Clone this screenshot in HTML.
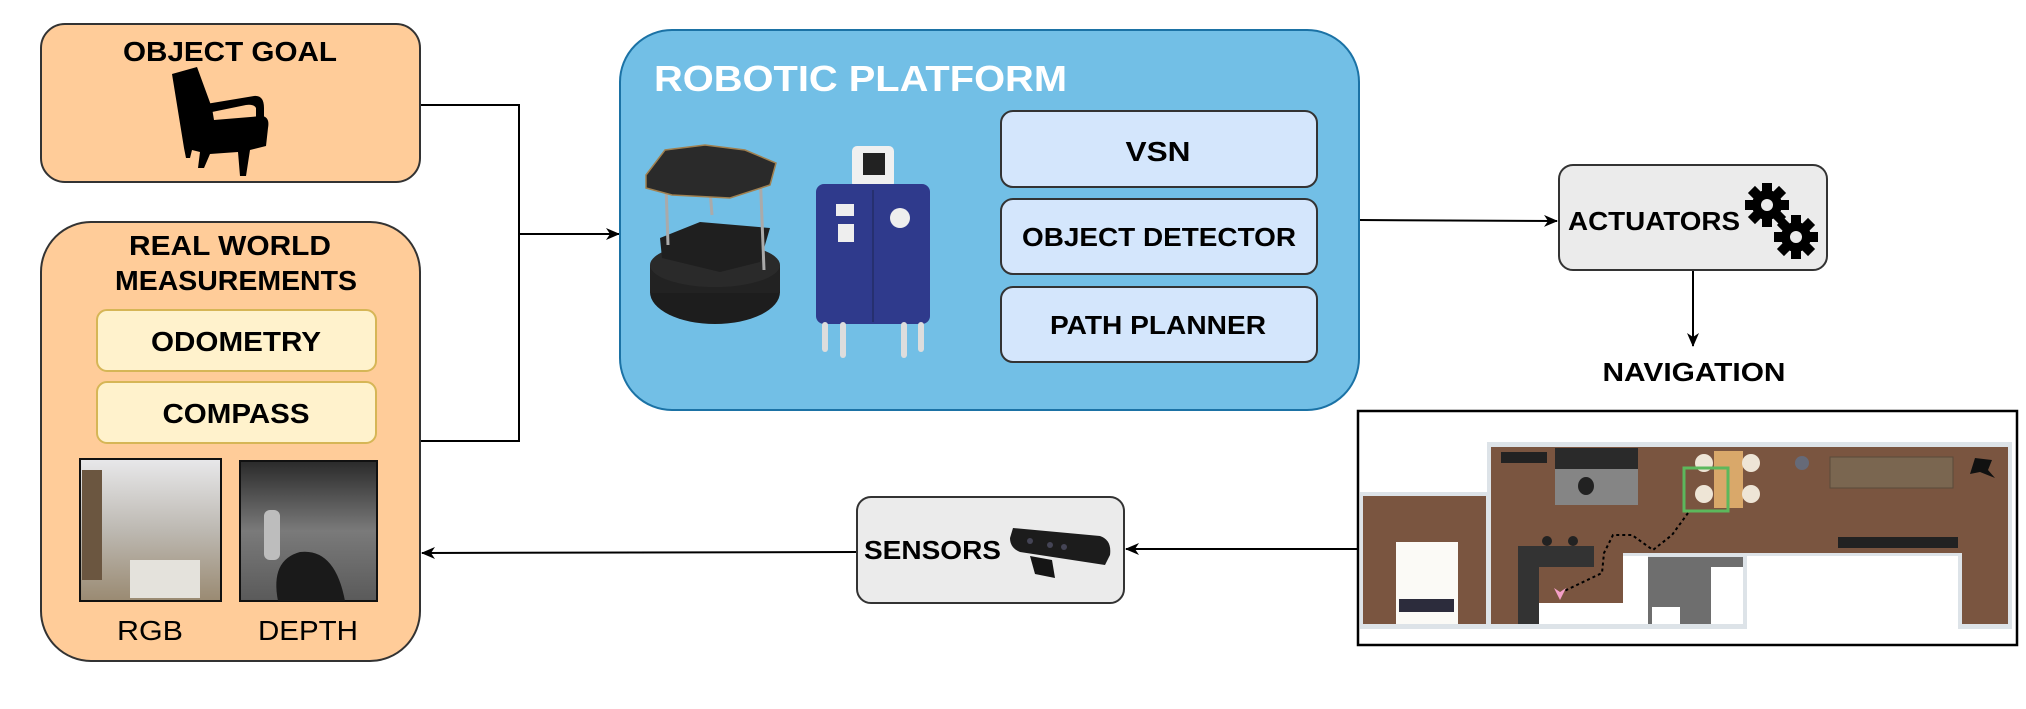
<!DOCTYPE html>
<html><head><meta charset="utf-8"><style>
html,body{margin:0;padding:0;background:#fff;}
svg{display:block;font-family:"Liberation Sans",sans-serif;}
</style></head><body>
<svg width="2026" height="709" viewBox="0 0 2026 709" xmlns="http://www.w3.org/2000/svg">
<defs>
<marker id="ah" markerWidth="14" markerHeight="12" refX="13" refY="6" orient="auto" markerUnits="userSpaceOnUse">
<path d="M0,0 L14,6 L0,12 L4,6 Z" fill="#000"/></marker>
<linearGradient id="rgbg" x1="0" y1="0" x2="0" y2="1"><stop offset="0" stop-color="#e8e8ea"/><stop offset="0.5" stop-color="#bdb9b2"/><stop offset="1" stop-color="#9a8a72"/></linearGradient>
<linearGradient id="depg" x1="0" y1="0" x2="0" y2="1"><stop offset="0" stop-color="#2a2a2a"/><stop offset="0.5" stop-color="#7a7a7a"/><stop offset="1" stop-color="#5a5a5a"/></linearGradient>
<g id="gear"><circle r="15" fill="#000"/>
<g fill="#000"><rect x="-5" y="-22" width="10" height="44"/><rect x="-5" y="-22" width="10" height="44" transform="rotate(45)"/><rect x="-5" y="-22" width="10" height="44" transform="rotate(90)"/><rect x="-5" y="-22" width="10" height="44" transform="rotate(135)"/></g>
<circle r="6" fill="#ebebeb"/></g>
</defs>

<!-- connectors -->
<polyline points="420,105 519,105 519,441 420,441" fill="none" stroke="#000" stroke-width="2"/>
<line x1="519" y1="234" x2="619" y2="234" stroke="#000" stroke-width="2" marker-end="url(#ah)"/>
<line x1="1359" y1="220" x2="1557" y2="221" stroke="#000" stroke-width="2" marker-end="url(#ah)"/>
<line x1="1693" y1="270" x2="1693" y2="346" stroke="#000" stroke-width="2" marker-end="url(#ah)"/>
<line x1="1358" y1="549" x2="1126" y2="549" stroke="#000" stroke-width="2" marker-end="url(#ah)"/>
<line x1="857" y1="552" x2="422" y2="553" stroke="#000" stroke-width="2" marker-end="url(#ah)"/>

<!-- Object goal -->
<rect x="41" y="24" width="379" height="158" rx="24" fill="#ffcc99" stroke="#333" stroke-width="2"/>
<text x="230" y="61" text-anchor="middle" font-weight="bold" font-size="28" textLength="214" lengthAdjust="spacingAndGlyphs">OBJECT GOAL</text>
<g fill="#000">
<path d="M172,74 L197,67 L212,108 L214,120 L262,116 Q270,117 268,128 L266,146 L250,150 L246,176 L240,176 L238,152 L210,154 L204,168 L198,168 L200,152 L192,150 L190,158 L186,158 L184,148 Z"/>
<path d="M206,104 L254,96 Q264,95 264,108 L264,118 L256,118 L256,108 Q254,104 246,105 L212,112 Z"/>
</g>

<!-- Real world -->
<rect x="41" y="222" width="379" height="439" rx="50" fill="#ffcc99" stroke="#333" stroke-width="2"/>
<text x="230" y="255" text-anchor="middle" font-weight="bold" font-size="28" textLength="202" lengthAdjust="spacingAndGlyphs">REAL WORLD</text>
<text x="236" y="290" text-anchor="middle" font-weight="bold" font-size="28" textLength="242" lengthAdjust="spacingAndGlyphs">MEASUREMENTS</text>
<rect x="97" y="310" width="279" height="61" rx="10" fill="#fff2cc" stroke="#d6b656" stroke-width="2"/>
<text x="236" y="351" text-anchor="middle" font-weight="bold" font-size="28" textLength="170" lengthAdjust="spacingAndGlyphs">ODOMETRY</text>
<rect x="97" y="382" width="279" height="61" rx="10" fill="#fff2cc" stroke="#d6b656" stroke-width="2"/>
<text x="236" y="423" text-anchor="middle" font-weight="bold" font-size="28" textLength="147" lengthAdjust="spacingAndGlyphs">COMPASS</text>
<rect x="80" y="459" width="141" height="142" fill="url(#rgbg)" stroke="#111" stroke-width="2"/>
<rect x="82" y="470" width="20" height="110" fill="#6b5640"/>
<rect x="130" y="560" width="70" height="38" fill="#e4e2dc"/>
<rect x="240" y="461" width="137" height="140" fill="url(#depg)" stroke="#111" stroke-width="2"/>
<rect x="264" y="510" width="16" height="50" rx="6" fill="#bdbdbd"/>
<path d="M278,601 Q270,560 300,552 Q335,548 345,601 Z" fill="#1a1a1a"/>
<text x="150" y="640" text-anchor="middle" font-size="28" textLength="66" lengthAdjust="spacingAndGlyphs">RGB</text>
<text x="308" y="640" text-anchor="middle" font-size="28" textLength="100" lengthAdjust="spacingAndGlyphs">DEPTH</text>

<!-- Robotic platform -->
<rect x="620" y="30" width="739" height="380" rx="52" fill="#72bfe6" stroke="#1b72a5" stroke-width="2"/>
<text x="654" y="91" font-weight="bold" font-size="36" fill="#fff" textLength="413" lengthAdjust="spacingAndGlyphs">ROBOTIC PLATFORM</text>
<!-- turtlebot -->
<ellipse cx="715" cy="292" rx="65" ry="32" fill="#1d1d1d"/>
<rect x="650" y="265" width="130" height="28" fill="#222"/>
<ellipse cx="715" cy="265" rx="65" ry="22" fill="#2a2a2a"/>
<path d="M660,238 L700,222 L770,228 L760,262 L720,272 L662,258 Z" fill="#1f1f1f"/>
<line x1="666" y1="185" x2="668" y2="245" stroke="#aaa" stroke-width="3"/>
<line x1="760" y1="170" x2="764" y2="270" stroke="#aaa" stroke-width="3"/>
<line x1="710" y1="190" x2="712" y2="215" stroke="#aaa" stroke-width="3"/>
<path d="M646,175 L665,150 L705,145 L745,150 L776,163 L770,185 L730,198 L672,195 L646,188 Z" fill="#2a2a2a" stroke="#a08050" stroke-width="1.5"/>
<!-- blue robot -->
<rect x="852" y="146" width="42" height="42" rx="5" fill="#f0f0f0"/>
<rect x="863" y="153" width="22" height="22" fill="#222"/>
<rect x="816" y="184" width="114" height="140" rx="8" fill="#2f3a8c"/>
<line x1="873" y1="190" x2="873" y2="322" stroke="#26306f" stroke-width="2"/>
<circle cx="900" cy="218" r="10" fill="#eee"/>
<rect x="836" y="204" width="18" height="12" fill="#eee"/>
<rect x="838" y="224" width="16" height="18" fill="#eee"/>
<rect x="822" y="322" width="6" height="30" rx="3" fill="#ddd"/>
<rect x="840" y="322" width="6" height="36" rx="3" fill="#ddd"/>
<rect x="901" y="322" width="6" height="36" rx="3" fill="#ddd"/>
<rect x="918" y="322" width="6" height="30" rx="3" fill="#ddd"/>
<!-- modules -->
<rect x="1001" y="111" width="316" height="76" rx="12" fill="#d4e6fc" stroke="#333" stroke-width="2"/>
<text x="1158" y="161" text-anchor="middle" font-weight="bold" font-size="28" textLength="65" lengthAdjust="spacingAndGlyphs">VSN</text>
<rect x="1001" y="199" width="316" height="75" rx="12" fill="#d4e6fc" stroke="#333" stroke-width="2"/>
<text x="1159" y="246" text-anchor="middle" font-weight="bold" font-size="26" textLength="274" lengthAdjust="spacingAndGlyphs">OBJECT DETECTOR</text>
<rect x="1001" y="287" width="316" height="75" rx="12" fill="#d4e6fc" stroke="#333" stroke-width="2"/>
<text x="1158" y="334" text-anchor="middle" font-weight="bold" font-size="26" textLength="216" lengthAdjust="spacingAndGlyphs">PATH PLANNER</text>

<!-- Actuators -->
<rect x="1559" y="165" width="268" height="105" rx="14" fill="#ebebeb" stroke="#333" stroke-width="2"/>
<text x="1568" y="230" font-weight="bold" font-size="26" textLength="172" lengthAdjust="spacingAndGlyphs">ACTUATORS</text>
<use href="#gear" transform="translate(1767,205)"/>
<use href="#gear" transform="translate(1796,237)"/>
<text x="1694" y="381" text-anchor="middle" font-weight="bold" font-size="26" textLength="183" lengthAdjust="spacingAndGlyphs">NAVIGATION</text>

<!-- Sensors -->
<rect x="857" y="497" width="267" height="106" rx="14" fill="#ebebeb" stroke="#333" stroke-width="2"/>
<text x="864" y="559" font-weight="bold" font-size="26" textLength="137" lengthAdjust="spacingAndGlyphs">SENSORS</text>
<path d="M1013,528 L1100,536 Q1112,540 1110,555 L1105,565 L1020,552 Q1010,548 1010,538 Z" fill="#1c1c1c"/>
<path d="M1030,556 L1052,560 L1055,578 L1035,574 Z" fill="#151515"/>
<circle cx="1030" cy="541" r="3" fill="#445"/><circle cx="1050" cy="545" r="3" fill="#445"/><circle cx="1064" cy="547" r="3" fill="#445"/>

<!-- Floor plan -->
<rect x="1358" y="411" width="659" height="234" fill="#fff" stroke="#000" stroke-width="2.5"/>
<g>
<!-- walls -->
<rect x="1360" y="492" width="130" height="137" fill="#dde3e8"/>
<rect x="1487" y="442" width="525" height="114" fill="#dde3e8"/>
<rect x="1487" y="550" width="260" height="79" fill="#dde3e8"/>
<rect x="1958" y="550" width="54" height="79" fill="#dde3e8"/>
<!-- brown floors -->
<rect x="1363" y="496" width="123" height="128" fill="#7a5540"/>
<rect x="1491" y="447" width="517" height="106" fill="#7a5540"/>
<rect x="1491" y="553" width="132" height="50" fill="#7a5540"/>
<rect x="1491" y="553" width="27" height="71" fill="#7a5540"/>
<rect x="1962" y="553" width="46" height="71" fill="#7a5540"/>
<rect x="1539" y="603" width="84" height="21" fill="#fff"/>
<!-- white areas -->
<rect x="1623" y="556" width="25" height="68" fill="#fff"/>
<rect x="1748" y="556" width="210" height="68" fill="#fff"/>
<!-- bathroom -->
<rect x="1648" y="557" width="95" height="67" fill="#6e6e6e"/>
<rect x="1711" y="567" width="32" height="57" fill="#fff"/>
<rect x="1652" y="607" width="28" height="17" fill="#fff"/>
<!-- bed -->
<rect x="1396" y="542" width="62" height="82" fill="#fbfaf6"/>
<rect x="1399" y="599" width="55" height="13" fill="#2c2c3c"/>
<!-- counter -->
<rect x="1518" y="546" width="21" height="78" fill="#333"/>
<rect x="1518" y="546" width="76" height="21" fill="#333"/>
<circle cx="1547" cy="541" r="5" fill="#222"/><circle cx="1573" cy="541" r="5" fill="#222"/>
<!-- desk + rug -->
<rect x="1555" y="448" width="83" height="21" fill="#2a2a2a"/>
<rect x="1555" y="469" width="83" height="36" fill="#858585"/>
<ellipse cx="1586" cy="486" rx="8" ry="9" fill="#222"/>
<rect x="1501" y="452" width="46" height="11" fill="#222"/>
<!-- table -->
<rect x="1714" y="451" width="29" height="57" fill="#d9a86a"/>
<circle cx="1704" cy="463" r="9" fill="#eee5d6"/><circle cx="1704" cy="494" r="9" fill="#eee5d6"/>
<circle cx="1751" cy="463" r="9" fill="#eee5d6"/><circle cx="1751" cy="494" r="9" fill="#eee5d6"/>
<rect x="1684" y="468" width="44" height="43" fill="none" stroke="#5cb85c" stroke-width="3"/>
<circle cx="1802" cy="463" r="7" fill="#666a78"/>
<rect x="1830" y="457" width="123" height="31" fill="#7a6650" stroke="#5a4a3a"/>
<rect x="1838" y="537" width="120" height="11" fill="#222"/>
<path d="M1975,458 L1992,460 L1988,470 L1995,478 L1980,472 L1970,474 Z" fill="#111"/>
<!-- path -->
<path d="M1560,593 L1602,573 L1604,553 L1613,535 L1632,535 L1653,550 L1672,535 L1688,513" fill="none" stroke="#000" stroke-width="2" stroke-dasharray="3,3"/>
<path d="M1554,588 L1560,600 L1566,588 L1560,592 Z" fill="#f5a0c8"/>
</g>
</svg>
</body></html>
